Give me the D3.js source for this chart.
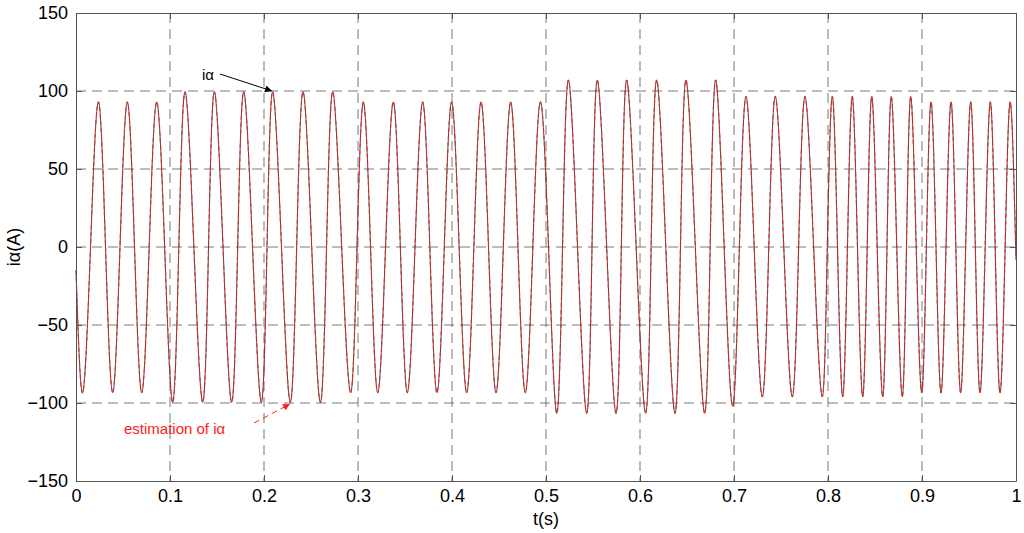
<!DOCTYPE html>
<html>
<head>
<meta charset="utf-8">
<script src="https://cdn.jsdelivr.net/npm/d3@7"></script>
<style>
body { margin: 0; background: #fff; }
text { font-family: "Liberation Sans", Arial, sans-serif; }
</style>
</head>
<body>
<svg id="chart" width="1024" height="533"></svg>
<script>
// extrema (time in s, current in A)
var maxT = [0.0238, 0.0546, 0.0858, 0.1160, 0.1472, 0.1784, 0.2092, 0.2415, 0.2731, 0.3057, 0.3376, 0.3688, 0.3996, 0.4309, 0.4624, 0.4940,
            0.5238, 0.5546, 0.5858, 0.6177, 0.6489, 0.6805, 0.7128, 0.7439, 0.7755, 0.8046, 0.8258, 0.8465, 0.8673, 0.8880, 0.9096, 0.9309, 0.9518, 0.9727, 0.9939];
var maxV = [93, 93, 93, 99.5, 99.5, 99.5, 99.5, 99.5, 99.5, 93, 93, 93, 93, 93, 93, 93,
            107, 107, 107, 107, 107, 107, 96.5, 96.5, 96.5, 96.5, 96.5, 96.5, 96.5, 96.5, 93, 93, 93, 93, 93];
var minT = [0.0071, 0.0390, 0.0699, 0.1028, 0.1348, 0.1656, 0.1972, 0.2280, 0.2600, 0.2922, 0.3210, 0.3525, 0.3840, 0.4156, 0.4468, 0.4780,
            0.5114, 0.5433, 0.5745, 0.6060, 0.6372, 0.6688, 0.6986, 0.7301, 0.7620, 0.7939, 0.8156, 0.8369, 0.8582, 0.8790, 0.8997, 0.9202, 0.9411, 0.9617, 0.9830];
var minV = [-93.4, -93.4, -93.4, -99.6, -99.6, -99.6, -99.6, -99.6, -99.6, -93.4, -93.4, -93.4, -93.4, -93.4, -93.4, -93.4,
            -106.6, -106.6, -106.6, -106.6, -106.6, -106.6, -102, -96, -96, -96, -96, -96, -96, -96, -93.5, -93.5, -93.5, -93.5, -93.5];
var startV = -15, endV = -8;
var xTicks = [0, 0.1, 0.2, 0.3, 0.4, 0.5, 0.6, 0.7, 0.8, 0.9, 1];
var yTicks = [-150, -100, -50, 0, 50, 100, 150];

// merge extrema in time order, put zero crossings halfway between them
var ext = [];
maxT.forEach(function(t, i) { ext.push([t, maxV[i]]); });
minT.forEach(function(t, i) { ext.push([t, minV[i]]); });
ext.sort(function(a, b) { return a[0] - b[0]; });
var pts = [[0, startV]];
ext.forEach(function(p, i) {
    if (i > 0) pts.push([(ext[i - 1][0] + p[0]) / 2, 0]);
    pts.push(p);
});
pts.push([1, endV]);

var margin = {left: 76, right: 8, top: 13, bottom: 52};
var W = 1024, H = 533;
var iw = W - margin.left - margin.right, ih = H - margin.top - margin.bottom;

var svg = d3.select("#chart");
var g = svg.append("g").attr("transform", "translate(" + margin.left + "," + margin.top + ")");

var x = d3.scaleLinear().domain([0, 1]).range([0, iw]);
var y = d3.scaleLinear().domain([-150, 150]).range([ih, 0]);

// grid
g.selectAll(".gx").data(xTicks.slice(1, -1)).enter().append("line")
    .attr("x1", function(d) { return x(d); }).attr("x2", function(d) { return x(d); })
    .attr("y1", 0).attr("y2", ih)
    .attr("stroke", "#444").attr("stroke-width", 1).attr("stroke-dasharray", "10,6").attr("opacity", 0.7);
g.selectAll(".gy").data(yTicks.slice(1, -1)).enter().append("line")
    .attr("x1", 0).attr("x2", iw)
    .attr("y1", function(d) { return y(d); }).attr("y2", function(d) { return y(d); })
    .attr("stroke", "#444").attr("stroke-width", 1).attr("stroke-dasharray", "10,6").attr("opacity", 0.7);

var line = d3.line().x(function(d) { return x(d[0]); }).y(function(d) { return y(d[1]); }).curve(d3.curveNatural);

g.append("path").attr("d", line(pts)).attr("fill", "none").attr("stroke", "#333").attr("stroke-width", 0.9);
g.append("path").attr("d", line(pts)).attr("fill", "none").attr("stroke", "#ff1a1a").attr("stroke-width", 1.2)
    .attr("stroke-dasharray", "4,3").attr("opacity", 0.85);

// axes, ticks inward, on all four sides
var axB = d3.axisBottom(x).tickValues(xTicks).tickSizeInner(-6).tickSizeOuter(0).tickPadding(8).tickFormat(d3.format("~g"));
var axL = d3.axisLeft(y).tickValues(yTicks).tickSizeInner(-6).tickSizeOuter(0).tickPadding(8);
var axT = d3.axisTop(x).tickValues(xTicks).tickSizeInner(-6).tickSizeOuter(0).tickFormat("");
var axR = d3.axisRight(y).tickValues(yTicks).tickSizeInner(-6).tickSizeOuter(0).tickFormat("");
[[axB, "translate(0," + ih + ")"], [axL, null], [axT, null], [axR, "translate(" + iw + ",0)"]].forEach(function(a) {
    var s = g.append("g").call(a[0]);
    if (a[1]) s.attr("transform", a[1]);
    s.selectAll("path, line").attr("stroke", "#555");
    s.selectAll("text").attr("font-size", 18).attr("fill", "#000");
});

svg.append("text").attr("x", margin.left + iw / 2).attr("y", 525).attr("text-anchor", "middle")
    .attr("font-size", 18).text("t(s)");
svg.append("text").attr("transform", "translate(20," + (margin.top + ih / 2) + ") rotate(-90)")
    .attr("text-anchor", "middle").attr("font-size", 18).text("iα(A)");

// annotations
var defs = svg.append("defs");
[["ab", "#000"], ["ar", "#ff2020"]].forEach(function(m) {
    defs.append("marker").attr("id", m[0]).attr("viewBox", "0 0 10 10").attr("refX", 10).attr("refY", 5)
        .attr("markerWidth", 9).attr("markerHeight", 7).attr("orient", "auto")
        .append("path").attr("d", "M0,0L10,5L0,10z").attr("fill", m[1]);
});
svg.append("text").attr("x", 202).attr("y", 80).attr("font-size", 15).text("iα");
svg.append("line").attr("x1", 220).attr("y1", 74).attr("x2", 272).attr("y2", 91)
    .attr("stroke", "#000").attr("marker-end", "url(#ab)");
svg.append("text").attr("x", 124).attr("y", 434).attr("font-size", 15).attr("fill", "#ff2020").text("estimation of iα");
svg.append("line").attr("x1", 254).attr("y1", 423).attr("x2", 290).attr("y2", 404)
    .attr("stroke", "#ff2020").attr("stroke-dasharray", "6,4").attr("marker-end", "url(#ar)");
</script>
</body>
</html>
